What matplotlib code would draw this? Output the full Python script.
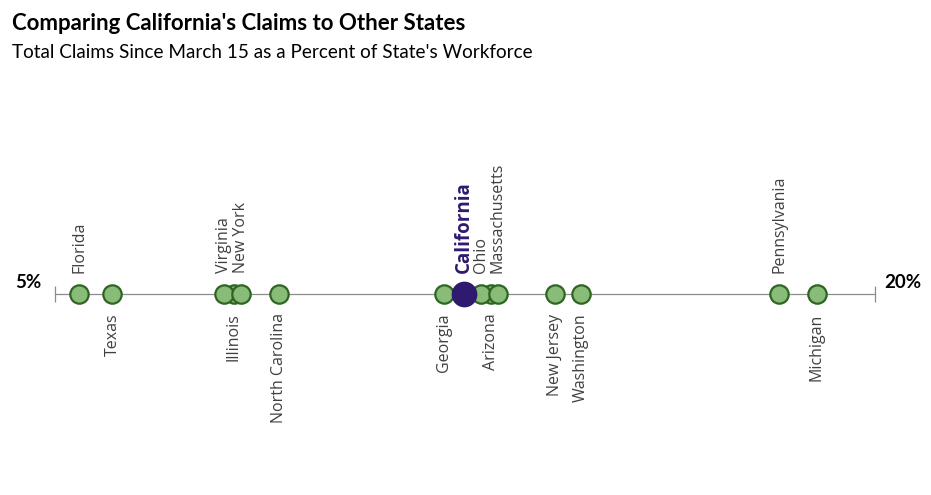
import matplotlib
matplotlib.use("Agg")
import matplotlib.pyplot as plt

# Total claims since March 15 as % of state workforce
states = ['Illinois', 'Arizona', 'Florida', 'Texas', 'Virginia', 'New York',
          'North Carolina', 'Georgia', 'Ohio', 'Massachusetts', 'New Jersey',
          'Washington', 'Pennsylvania', 'Michigan']
claims_pct = [8.27, 12.97, 5.44, 6.05, 8.10, 8.40,
              9.10, 12.12, 12.80, 13.10, 14.15,
              14.62, 18.25, 18.93]
label_above = ['Florida', 'Virginia', 'New York', 'Ohio', 'Massachusetts', 'Pennsylvania']

ca_name = 'California'
ca_pct = 12.48

axis_min, axis_max = 5, 20

green_fill = '#88BC78'
green_edge = '#2F6522'
ca_color = '#2E1A6E'

fig = plt.figure(figsize=(9.31, 4.95), dpi=100)
# axes placed so the 5%..20% range spans the drawn line
ax = fig.add_axes([55 / 931, 0, 820 / 931, 1])
ax.set_xlim(axis_min, axis_max)
ax.set_ylim(-201, 294)

for side in ['top', 'left', 'right']:
    ax.spines[side].set_visible(False)
ax.spines['bottom'].set_position(('data', 0))
ax.spines['bottom'].set_color('#8C8C8C')
ax.spines['bottom'].set_linewidth(0.9)
ax.set_xticks([axis_min, axis_max])
ax.set_xticklabels([])
ax.tick_params(axis='x', direction='inout', length=12, width=0.9, color='#8C8C8C')
ax.set_yticks([])
ax.patch.set_alpha(0)

# green states
ax.scatter(claims_pct, [0] * len(claims_pct), s=175, color=green_fill,
           edgecolor=green_edge, linewidth=1.6, zorder=3, clip_on=False)
# California highlighted
ax.scatter([ca_pct], [0], s=300, color=ca_color, edgecolor=ca_color,
           linewidth=1.2, zorder=4, clip_on=False)

label_font = 'Open Sans'
for name, val in zip(states, claims_pct):
    if name in label_above:
        ax.annotate(name, (val, 0), xytext=(0, 15), textcoords='offset points',
                    rotation=90, ha='center', va='bottom', fontsize=11.5,
                    color='#404040', family=label_font)
    else:
        ax.annotate(name, (val, 0), xytext=(0, -14), textcoords='offset points',
                    rotation=90, ha='center', va='top', fontsize=11.5,
                    color='#404040', family=label_font)

ax.annotate(ca_name, (ca_pct, 0), xytext=(0, 15), textcoords='offset points',
            rotation=90, ha='center', va='bottom', fontsize=13.5, fontweight='bold',
            color=ca_color, family=label_font)

# end labels
fig.text(28 / 931, 1 - 283 / 495, '5%', ha='center', va='center',
         fontsize=13.5, fontweight='bold', family='Lato')
fig.text(903 / 931, 1 - 282 / 495, '20%', ha='center', va='center',
         fontsize=13.5, fontweight='bold', family='Lato')

# titles
fig.text(12 / 931, 1 - 23 / 495, "Comparing California's Claims to Other States",
         ha='left', va='center', fontsize=16, fontweight='bold', family='Lato')
fig.text(12 / 931, 1 - 53 / 495, "Total Claims Since March 15 as a Percent of State's Workforce",
         ha='left', va='center', fontsize=13.6, family='Lato')

fig.savefig('out.png', dpi=100)
